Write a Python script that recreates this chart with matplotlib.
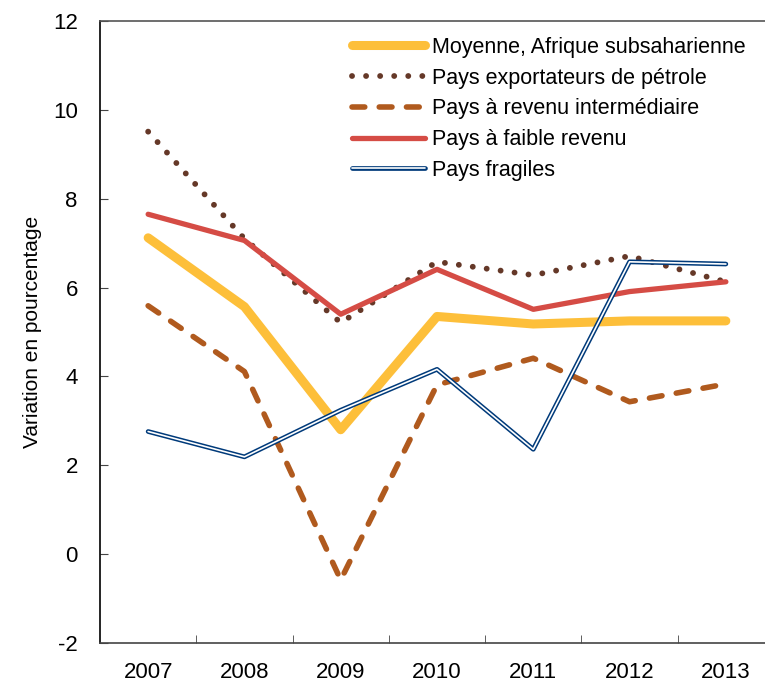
import matplotlib
matplotlib.use("Agg")
import matplotlib.pyplot as plt
import matplotlib.patheffects as pe

years = ["2007", "2008", "2009", "2010", "2011", "2012", "2013"]
moyenne = [7.12, 5.57, 2.80, 5.35, 5.18, 5.25, 5.25]
petrole = [9.51, 7.10, 5.21, 6.58, 6.28, 6.71, 6.13]
intermediaire = [5.59, 4.11, -0.58, 3.81, 4.41, 3.43, 3.83]
faible = [7.65, 7.06, 5.40, 6.41, 5.51, 5.91, 6.13]
fragiles = [2.76, 2.19, 3.24, 4.16, 2.36, 6.58, 6.53]

labels = [
    "Moyenne, Afrique subsaharienne",
    "Pays exportateurs de pétrole",
    "Pays à revenu intermédiaire",
    "Pays à faible revenu",
    "Pays fragiles",
]

plt.rcParams["font.family"] = ["Liberation Sans", "DejaVu Sans"]
plt.rcParams["axes.unicode_minus"] = False

fig = plt.figure(figsize=(7.65, 6.87), dpi=100)
ax = fig.add_axes([100 / 765, 44 / 687, 674 / 765, 622 / 687])
x = list(range(len(years)))

ax.plot(x, moyenne, color="#FDBF3A", lw=6.5, solid_capstyle="round", label=labels[0], zorder=3)
ax.plot(x, petrole, color="#653828", lw=4.2, linestyle=(0, (0.01, 2.4)), dash_capstyle="round", label=labels[1], zorder=4)
ax.plot(x, intermediaire, color="#B05A1E", lw=4.0, linestyle=(0, (2.3, 2.6)), dash_capstyle="round", label=labels[2], zorder=4)
ax.plot(x, faible, color="#D54C45", lw=3.8, solid_capstyle="round", label=labels[3], zorder=5)
# fragile countries: white line with a dark blue outline
ax.plot(x, fragiles, color="white", lw=1.2, solid_capstyle="round", label=labels[4], zorder=6,
        path_effects=[pe.Stroke(linewidth=3.4, foreground="#003A7A"), pe.Normal()])

ax.set_xlim(-0.5, 6.5)
ax.set_ylim(-2, 12)
ax.set_yticks(range(-2, 13, 2))
ax.set_xticks(x)
ax.set_xticklabels(years)
ax.set_xticks([i + 0.5 for i in range(6)], minor=True)
ax.tick_params(axis="x", which="major", length=0, pad=14, labelsize=16)
ax.tick_params(axis="x", which="minor", direction="in", length=6, color="#444444")
ax.tick_params(axis="y", direction="in", length=6, pad=16, labelsize=16, color="#444444")
ax.set_ylabel("Variation en pourcentage", fontsize=15, labelpad=8)

ax.spines["right"].set_visible(False)
ax.spines["top"].set_color("#555555")
ax.spines["bottom"].set_color("#444444")
ax.spines["left"].set_color("black")
for s in ax.spines.values():
    s.set_linewidth(1.2)

ax.legend(loc="upper left", bbox_to_anchor=(352 / 765, 1 - 37 / 687), bbox_transform=fig.transFigure,
          frameon=False, fontsize=15.5, handlelength=3.4, handletextpad=0.3, borderpad=0,
          labelspacing=0.45, borderaxespad=0)

fig.savefig("out.png", dpi=100)
